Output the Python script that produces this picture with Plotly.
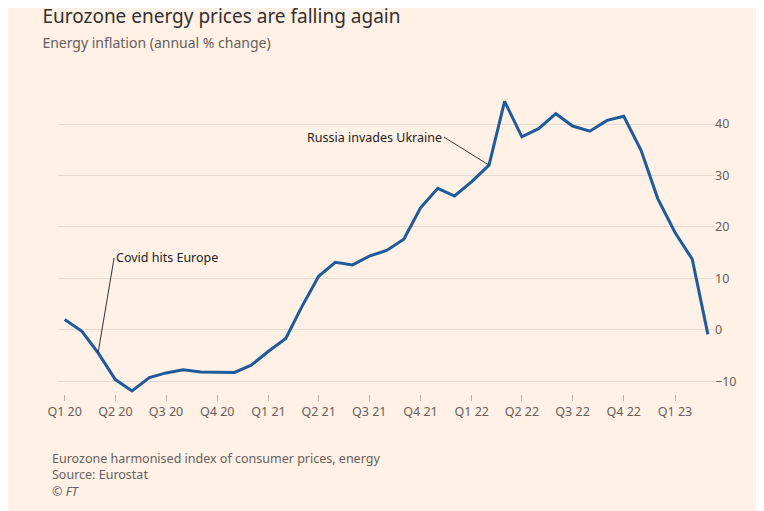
import pandas as pd
import plotly.graph_objects as go

months = pd.date_range("2020-01-01", "2023-03-01", freq="MS")
energy = [2.0, -0.3, -4.5, -9.7, -11.9, -9.3, -8.4, -7.8, -8.2, -8.2, -8.3, -6.9,
          -4.2, -1.7, 4.3, 10.4, 13.1, 12.6, 14.3, 15.4, 17.6, 23.7, 27.5, 26.0,
          28.8, 32.0, 44.4, 37.5, 39.1, 42.0, 39.6, 38.6, 40.7, 41.5, 34.9, 25.5,
          18.9, 13.7, -0.9]
tick_dates = pd.date_range("2020-01-01", "2023-01-01", freq="QS")
tick_text = [f"Q{(d.month - 1) // 3 + 1} {str(d.year)[2:]}" for d in tick_dates]

bg = "#FFF1E5"
fig = go.Figure()
fig.add_trace(go.Scatter(x=months, y=energy, mode="lines",
                         line=dict(color="#1F5A9C", width=3), hoverinfo="x+y"))

fig.add_annotation(x=months[2], y=energy[2], ax=16, ay=-95,
                   text="Covid hits Europe", showarrow=True, arrowhead=0, arrowwidth=1,
                   arrowcolor="#333", xanchor="left", yanchor="middle",
                   font=dict(size=12.5, color="#222"))
fig.add_annotation(x=months[25], y=energy[25], text="Russia invades Ukraine",
                   ax=-45, ay=-28, showarrow=True, arrowhead=0, arrowwidth=1,
                   arrowcolor="#333", xanchor="right", yanchor="middle",
                   font=dict(size=12.5, color="#222"))

fig.update_layout(
    width=764, height=511, paper_bgcolor=bg, plot_bgcolor=bg,
    margin=dict(l=50, r=58, t=80, b=125), showlegend=False,
    font=dict(family="Noto Sans", color="#66605C"),
    title=dict(text="Eurozone energy prices are falling again<br><span style='font-size:14px;color:#66605C'>Energy inflation (annual % change)</span>",
               x=0.045, xanchor="left", y=0.97, yanchor="top",
               font=dict(size=19, color="#33302E")),
    xaxis=dict(tickvals=tick_dates, ticktext=tick_text, showgrid=False,
               ticks="outside", ticklen=6, tickcolor="#B8AFA8",
               range=[pd.Timestamp("2019-12-20"), pd.Timestamp("2023-03-12")],
               showline=False, tickfont=dict(size=12.5, color="#66605C")),
    yaxis=dict(side="right", range=[-12.5, 47], tickvals=[-10, 0, 10, 20, 30, 40],
               gridcolor="#E6D9CE", zeroline=False, showline=False,
               ticks="", tickfont=dict(size=12.5, color="#66605C")),
)
fig.add_annotation(xref="paper", yref="paper", x=-0.012, y=-0.175, xanchor="left", yanchor="top",
                   align="left", showarrow=False,
                   text="Eurozone harmonised index of consumer prices, energy<br>Source: Eurostat<br><i>© FT</i>",
                   font=dict(size=12.5, color="#66605C"))
fig.write_html("out.html")
